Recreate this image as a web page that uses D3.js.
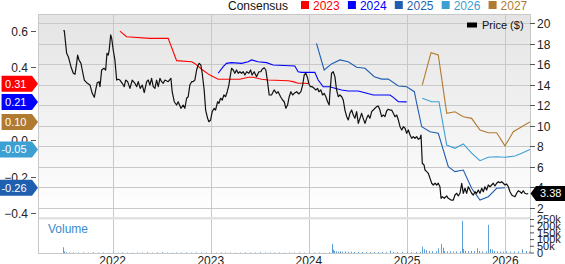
<!DOCTYPE html>
<html lang="en">
<head>
<meta charset="UTF-8">
<title>Consensus EPS estimates and price</title>
<script src="https://d3js.org/d3.v7.min.js"></script>
<style>
  body { margin: 0; background: #fff; }
  svg { display: block; font-family: "Liberation Sans", Arial, sans-serif; }
</style>
</head>
<body>
<svg id="chart" width="565" height="264"></svg>
<script>
// time is given as decimal years
const years = [2022, 2023, 2024, 2025, 2026];
const seriesNames = ["2023", "2024", "2025", "2026", "2027"];
const seriesColors = ["#ff0000", "#0000ff", "#1f5fb0", "#3ca0d2", "#b07a30"];

const est2023 = [[2022.074,0.598],[2022.142,0.567],[2022.380,0.558],[2022.566,0.558],[2022.652,0.436],[2022.805,0.430],[2022.838,0.421],[2022.907,0.389],[2022.991,0.357],[2023.076,0.334],[2023.178,0.334],[2023.297,0.334],[2023.382,0.345],[2023.433,0.345],[2023.519,0.334],[2023.586,0.330],[2023.789,0.326],[2023.840,0.321],[2023.891,0.312],[2023.959,0.312],[2023.993,0.31]];
const est2024 = [[2023.076,0.367],[2023.127,0.403],[2023.161,0.421],[2023.212,0.425],[2023.314,0.421],[2023.382,0.430],[2023.416,0.440],[2023.483,0.430],[2023.569,0.425],[2023.636,0.412],[2023.857,0.407],[2023.891,0.375],[2023.926,0.372],[2024.061,0.372],[2024.095,0.330],[2024.146,0.293],[2024.214,0.293],[2024.265,0.285],[2024.333,0.275],[2024.400,0.270],[2024.502,0.270],[2024.571,0.260],[2024.655,0.248],[2024.825,0.248],[2024.859,0.235],[2024.910,0.211],[2024.995,0.21]];
const est2025 = [[2024.078,0.531],[2024.156,0.385],[2024.231,0.418],[2024.316,0.440],[2024.400,0.430],[2024.486,0.400],[2024.571,0.394],[2024.665,0.348],[2024.741,0.335],[2024.808,0.335],[2024.910,0.297],[2024.995,0.293],[2025.073,0.266],[2025.097,0.202],[2025.148,0.074],[2025.233,0.047],[2025.317,0.038],[2025.419,-0.145],[2025.487,-0.172],[2025.572,-0.163],[2025.657,-0.263],[2025.742,-0.327],[2025.827,-0.309],[2025.912,-0.263],[2025.997,-0.26]];
const est2026 = [[2025.154,0.230],[2025.250,0.211],[2025.324,0.211],[2025.403,-0.026],[2025.487,-0.044],[2025.572,-0.020],[2025.657,-0.071],[2025.742,-0.112],[2025.827,-0.093],[2025.912,-0.090],[2025.997,-0.093],[2026.099,-0.086],[2026.167,-0.071],[2026.251,-0.05]];
const est2027 = [[2025.154,0.303],[2025.243,0.480],[2025.317,0.467],[2025.403,0.148],[2025.487,0.156],[2025.572,0.129],[2025.657,0.120],[2025.742,0.056],[2025.827,0.041],[2025.912,0.041],[2025.997,-0.031],[2026.082,0.047],[2026.167,0.074],[2026.251,0.10]];
const lastEps = ["0.31", "0.21", "-0.26", "-0.05", "0.10"];

const price = [[2021.497,19.25],[2021.507,19.28],[2021.531,17.07],[2021.548,16.74],[2021.575,15.76],[2021.599,15.12],[2021.616,15.02],[2021.633,16.09],[2021.643,16.90],[2021.657,16.42],[2021.677,16.09],[2021.690,15.44],[2021.711,14.46],[2021.735,14.20],[2021.769,13.97],[2021.792,13.16],[2021.813,12.77],[2021.827,13.49],[2021.843,14.20],[2021.861,14.30],[2021.871,13.81],[2021.888,15.44],[2021.911,15.61],[2021.929,15.44],[2021.942,17.07],[2021.955,16.90],[2021.965,17.39],[2021.980,18.86],[2021.990,18.54],
  [2022.006,17.39],[2022.023,16.42],[2022.041,14.46],[2022.057,14.53],[2022.074,14.46],[2022.098,14.14],[2022.118,13.81],[2022.133,14.46],[2022.153,14.30],[2022.176,13.65],[2022.200,14.46],[2022.227,14.14],[2022.245,13.81],[2022.261,14.30],[2022.281,13.65],[2022.302,13.97],[2022.322,13.22],[2022.347,14.30],[2022.363,14.46],[2022.380,13.97],[2022.397,14.63],[2022.414,13.81],[2022.431,13.65],[2022.448,14.46],[2022.465,13.81],[2022.482,14.63],[2022.499,14.30],[2022.516,14.14],[2022.533,14.46],[2022.566,14.30],[2022.594,14.63],[2022.607,13.32],[2022.628,12.34],[2022.652,12.02],[2022.668,12.34],[2022.696,11.70],[2022.719,12.02],[2022.736,11.70],[2022.754,12.68],[2022.770,12.83],[2022.787,13.97],[2022.805,14.30],[2022.821,14.30],[2022.838,14.46],[2022.856,15.44],[2022.872,15.93],[2022.882,16.09],[2022.899,15.93],[2022.913,15.12],[2022.933,13.49],[2022.948,11.53],[2022.968,10.72],[2022.981,10.39],[2022.999,10.56],
  [2023.015,11.37],[2023.035,11.70],[2023.049,11.53],[2023.070,12.34],[2023.083,12.19],[2023.100,12.68],[2023.117,12.51],[2023.134,13.00],[2023.151,12.83],[2023.168,13.32],[2023.185,13.97],[2023.198,14.79],[2023.212,15.61],[2023.229,15.44],[2023.246,15.12],[2023.263,15.44],[2023.280,15.12],[2023.297,15.27],[2023.314,15.12],[2023.331,15.27],[2023.348,14.95],[2023.366,15.27],[2023.389,15.12],[2023.406,15.44],[2023.422,14.95],[2023.443,15.27],[2023.467,14.79],[2023.491,15.27],[2023.511,15.27],[2023.524,15.51],[2023.545,15.66],[2023.562,15.44],[2023.579,14.30],[2023.596,13.00],[2023.620,13.00],[2023.646,13.49],[2023.671,13.16],[2023.687,13.32],[2023.712,12.83],[2023.732,12.51],[2023.749,12.34],[2023.766,11.70],[2023.783,12.02],[2023.800,12.83],[2023.817,13.32],[2023.835,13.00],[2023.851,13.16],[2023.876,13.32],[2023.899,13.10],[2023.919,13.32],[2023.937,13.97],[2023.953,14.95],[2023.970,15.12],[2023.988,14.63],
  [2024.001,14.07],[2024.017,13.81],[2024.034,13.81],[2024.054,13.65],[2024.071,13.49],[2024.089,13.65],[2024.102,13.32],[2024.122,13.49],[2024.140,13.00],[2024.156,13.16],[2024.173,12.83],[2024.191,12.34],[2024.207,12.02],[2024.214,13.16],[2024.231,15.12],[2024.248,15.27],[2024.265,14.79],[2024.282,13.49],[2024.299,12.83],[2024.316,13.00],[2024.334,12.83],[2024.350,12.51],[2024.367,11.53],[2024.385,10.88],[2024.401,10.56],[2024.418,11.21],[2024.435,11.53],[2024.452,11.04],[2024.469,10.72],[2024.486,11.37],[2024.503,10.23],[2024.520,10.72],[2024.537,11.21],[2024.553,10.72],[2024.571,10.23],[2024.588,10.72],[2024.604,11.04],[2024.621,10.72],[2024.639,11.37],[2024.655,11.53],[2024.672,11.70],[2024.690,11.86],[2024.706,11.92],[2024.723,11.53],[2024.740,10.88],[2024.757,11.04],[2024.774,10.88],[2024.792,11.46],[2024.808,11.60],[2024.825,11.53],[2024.842,11.53],[2024.859,11.21],[2024.876,10.88],[2024.894,11.04],[2024.910,10.56],[2024.927,9.90],[2024.945,9.58],[2024.961,9.90],[2024.978,9.75],[2024.995,9.26],
  [2025.012,9.58],[2025.029,9.09],[2025.046,8.77],[2025.063,8.93],[2025.080,8.77],[2025.097,8.93],[2025.114,8.67],[2025.131,8.77],[2025.141,9.09],[2025.154,6.33],[2025.172,6.16],[2025.182,5.67],[2025.199,5.51],[2025.215,5.35],[2025.233,4.86],[2025.250,4.38],[2025.266,4.21],[2025.284,4.38],[2025.301,4.21],[2025.317,4.38],[2025.334,4.04],[2025.345,2.91],[2025.358,3.07],[2025.378,2.91],[2025.403,3.14],[2025.419,2.91],[2025.447,2.74],[2025.470,2.74],[2025.487,3.23],[2025.505,3.40],[2025.521,3.14],[2025.538,3.40],[2025.556,4.38],[2025.572,3.40],[2025.589,3.89],[2025.606,3.40],[2025.623,4.04],[2025.640,3.72],[2025.657,3.40],[2025.674,3.23],[2025.691,3.55],[2025.708,3.40],[2025.725,3.72],[2025.742,3.40],[2025.760,3.89],[2025.776,3.55],[2025.793,4.04],[2025.810,3.72],[2025.827,4.21],[2025.844,4.04],[2025.861,4.21],[2025.878,4.38],[2025.895,4.11],[2025.912,4.38],[2025.929,4.53],[2025.946,4.43],[2025.963,4.53],[2025.980,4.38],[2025.997,4.21],
  [2026.014,4.31],[2026.031,4.04],[2026.048,3.55],[2026.066,3.23],[2026.082,3.14],[2026.099,3.07],[2026.116,3.40],[2026.132,3.65],[2026.150,3.55],[2026.167,3.40],[2026.183,3.65],[2026.200,3.40],[2026.218,3.33],[2026.234,3.38]];
const lastPrice = "3.38";

// volume in thousands of shares
const volume = [[2021.490,43],[2021.500,12],[2021.520,6],[2021.560,4],[2021.600,5],[2021.650,3],[2021.700,4],[2021.750,3],[2021.800,5],[2021.850,3],[2021.900,4],[2021.950,3],[2022.000,5],[2022.050,3],[2022.100,4],[2022.150,3],[2022.200,3],[2022.250,4],[2022.300,3],[2022.350,5],[2022.400,3],[2022.450,4],[2022.500,6],[2022.550,3],[2022.600,3],[2022.650,4],[2022.700,3],[2022.750,4],[2022.800,3],[2022.850,4],[2022.900,5],[2022.950,4],[2023.000,3],[2023.050,3],[2023.100,4],[2023.150,3],[2023.200,4],[2023.250,3],[2023.300,3],[2023.350,4],[2023.400,3],[2023.450,4],[2023.500,5],[2023.550,3],[2023.600,4],[2023.650,3],[2023.700,4],[2023.750,3],[2023.800,4],[2023.850,3],[2023.900,4],[2023.950,3],[2024.000,4],[2024.050,3],[2024.100,4],[2024.150,3],[2024.200,5],[2024.231,68],[2024.245,25],[2024.260,15],[2024.280,12],[2024.300,10],[2024.320,13],[2024.340,10],[2024.370,12],[2024.400,9],[2024.430,10],[2024.460,8],[2024.500,9],[2024.540,7],[2024.580,8],[2024.620,6],[2024.660,7],[2024.700,6],[2024.740,8],[2024.780,6],[2024.825,17],[2024.860,7],[2024.900,6],[2024.950,8],[2024.995,10],[2025.040,7],[2025.090,8],[2025.130,9],[2025.154,48],[2025.170,28],[2025.190,20],[2025.220,15],[2025.250,14],[2025.290,12],[2025.317,35],[2025.345,68],[2025.360,40],[2025.380,15],[2025.410,12],[2025.440,13],[2025.470,11],[2025.500,12],[2025.540,13],[2025.556,240],[2025.570,30],[2025.590,18],[2025.620,14],[2025.650,16],[2025.680,14],[2025.708,35],[2025.730,15],[2025.760,12],[2025.800,10],[2025.827,210],[2025.845,30],[2025.865,25],[2025.890,14],[2025.920,12],[2025.950,11],[2025.980,10],[2026.010,12],[2026.050,10],[2026.090,11],[2026.130,10],[2026.173,28],[2026.210,15],[2026.240,12]];

const priceTicks = [2, 4, 6, 8, 10, 12, 14, 16, 18, 20];
const epsTicks = [0.6, 0.4, 0.2, 0.0, -0.2, -0.4];
const volumeTicks = [0, 50, 100, 150, 200, 250];

const svg = d3.select("#chart");
const L = 38, R = 530, T = 14, B = 217, VT = 219.5, VB = 253;

function toDate(t) {
  const y = Math.floor(t);
  const a = Date.UTC(y, 0, 1), b = Date.UTC(y + 1, 0, 1);
  return new Date(a + (t - y) * (b - a));
}

const x = d3.scaleUtc().domain([toDate(2021.239), toDate(2026.252)]).range([L, R]);
const yPrice = d3.scaleLinear().domain([1.084, 20.908]).range([B, T]);
const yEps = d3.scaleLinear().domain([-0.4203, 0.6915]).range([B, T]);
const yVol = d3.scaleLinear().domain([0, 250]).range([VB, VT]);

// background gradient for main panel
const defs = svg.append("defs");
const grad = defs.append("linearGradient").attr("id", "bg").attr("x1", 0).attr("y1", 0).attr("x2", 0).attr("y2", 1);
grad.append("stop").attr("offset", "0%").attr("stop-color", "#e4e4e4");
grad.append("stop").attr("offset", "100%").attr("stop-color", "#ffffff");
defs.append("clipPath").attr("id", "clip").append("rect").attr("x", L).attr("y", T).attr("width", R - L).attr("height", B - T);

svg.append("rect").attr("x", L).attr("y", T).attr("width", R - L).attr("height", B - T).attr("fill", "url(#bg)");

// horizontal grid (price levels)
svg.append("g").selectAll("line").data(priceTicks).join("line")
  .attr("x1", L).attr("x2", R)
  .attr("y1", d => Math.round(yPrice(d)) + 0.5).attr("y2", d => Math.round(yPrice(d)) + 0.5)
  .attr("stroke", "#c8c8c8");

// vertical grid (years)
svg.append("g").selectAll("line").data(years).join("line")
  .attr("x1", d => Math.round(x(toDate(d))) + 0.5).attr("x2", d => Math.round(x(toDate(d))) + 0.5)
  .attr("y1", T).attr("y2", VB)
  .attr("stroke", "#c8c8c8");

// separator between panels
svg.append("rect").attr("x", L).attr("y", B).attr("width", R - L).attr("height", VT - B).attr("fill", "#e2e2e2");

// frame
svg.append("line").attr("x1", L).attr("x2", R).attr("y1", T + 0.5).attr("y2", T + 0.5).attr("stroke", "#c8c8c8");
svg.append("line").attr("x1", L + 0.5).attr("x2", L + 0.5).attr("y1", T).attr("y2", VB).attr("stroke", "#c8c8c8");
svg.append("line").attr("x1", R + 0.5).attr("x2", R + 0.5).attr("y1", T).attr("y2", VB).attr("stroke", "#c8c8c8");
svg.append("line").attr("x1", L).attr("x2", R).attr("y1", VB + 0.5).attr("y2", VB + 0.5).attr("stroke", "#c8c8c8");

// volume bars
svg.append("g").selectAll("rect").data(volume).join("rect")
  .attr("x", d => Math.round(x(toDate(d[0]))))
  .attr("y", d => yVol(d[1]))
  .attr("width", 1)
  .attr("height", d => VB - yVol(d[1]))
  .attr("fill", "#5b9fdb");

svg.append("text").attr("x", 48).attr("y", 233).attr("font-size", 12).attr("fill", "#3a8ad2").text("Volume");

// lines
const plot = svg.append("g").attr("clip-path", "url(#clip)");
const estLine = d3.line().x(d => x(toDate(d[0]))).y(d => yEps(d[1]));
[est2023, est2024, est2025, est2026, est2027].forEach((s, i) => {
  plot.append("path").datum(s).attr("d", estLine)
    .attr("fill", "none").attr("stroke", seriesColors[i]).attr("stroke-width", 1.1);
});
const priceLine = d3.line().x(d => x(toDate(d[0]))).y(d => yPrice(d[1]));
plot.append("path").datum(price).attr("d", priceLine)
  .attr("fill", "none").attr("stroke", "#111").attr("stroke-width", 1.2).attr("stroke-linejoin", "round");

// right axis: price
const rAxis = svg.append("g").attr("font-size", 12).attr("fill", "#222");
priceTicks.forEach(v => {
  const yy = Math.round(yPrice(v)) + 0.5;
  rAxis.append("line").attr("x1", R).attr("x2", R + 5).attr("y1", yy).attr("y2", yy).attr("stroke", "#555");
  rAxis.append("text").attr("x", R + 7).attr("y", yy).attr("dy", "0.35em").text(v);
});
// right axis: volume
volumeTicks.forEach(v => {
  const yy = yVol(v);
  rAxis.append("line").attr("x1", R).attr("x2", R + 4).attr("y1", yy).attr("y2", yy).attr("stroke", "#555");
  rAxis.append("text").attr("x", R + 7).attr("y", yy).attr("dy", "0.35em").attr("font-size", 11)
    .text(v === 0 ? "0" : v + "k");
});

// left axis: eps
const lAxis = svg.append("g").attr("font-size", 12).attr("fill", "#222");
epsTicks.forEach(v => {
  const yy = Math.round(yEps(v)) + 0.5;
  lAxis.append("line").attr("x1", 31).attr("x2", 36).attr("y1", yy).attr("y2", yy).attr("stroke", "#555");
  lAxis.append("text").attr("x", 28).attr("y", yy).attr("dy", "0.35em").attr("text-anchor", "end").text(d3.format(".1f")(v));
});

// x axis labels
svg.append("g").selectAll("text").data(years).join("text")
  .attr("x", d => x(toDate(d))).attr("y", 265)
  .attr("text-anchor", "middle").attr("font-size", 12).attr("fill", "#222")
  .text(d => d);

// left badges with the latest consensus value of each year
const ests = [est2023, est2024, est2025, est2026, est2027];
ests.forEach((s, i) => {
  const cy = yEps(s[s.length - 1][1]);
  const g = svg.append("g");
  const t = g.append("text").attr("font-size", 11).attr("fill", "#fff").text(lastEps[i]);
  const tw = t.node().getComputedTextLength();
  const x0 = 32 - tw - 9;
  g.insert("path", "text")
    .attr("d", `M${x0},${cy - 8}H32L38,${cy}L32,${cy + 8}H${x0}Z`)
    .attr("fill", seriesColors[i]);
  t.attr("x", x0 + 3.5).attr("y", cy).attr("dy", "0.36em");
});

// right badge with the last price
{
  const cy = yPrice(price[price.length - 1][1]);
  svg.append("path").attr("d", `M530.5,${cy}L536,${cy - 7.5}H565V${cy + 7.5}H536Z`).attr("fill", "#000");
  svg.append("text").attr("x", 540).attr("y", cy).attr("dy", "0.36em")
    .attr("font-size", 11).attr("fill", "#fff").text(lastPrice);
}

// top legend
const leg = svg.append("g").attr("font-size", 12);
leg.append("text").attr("x", 228).attr("y", 10).attr("fill", "#111").text("Consensus");
seriesNames.forEach((n, i) => {
  const lx = 301 + i * 46.9;
  leg.append("rect").attr("x", lx).attr("y", 1).attr("width", 8).attr("height", 8).attr("fill", seriesColors[i]);
  leg.append("text").attr("x", lx + 12).attr("y", 10).attr("fill", seriesColors[i]).text(n);
});

// price legend
svg.append("rect").attr("x", 467).attr("y", 22.5).attr("width", 10).attr("height", 5).attr("fill", "#000");
svg.append("text").attr("x", 482).attr("y", 29).attr("font-size", 11).attr("fill", "#111").text("Price ($)");
</script>
</body>
</html>
